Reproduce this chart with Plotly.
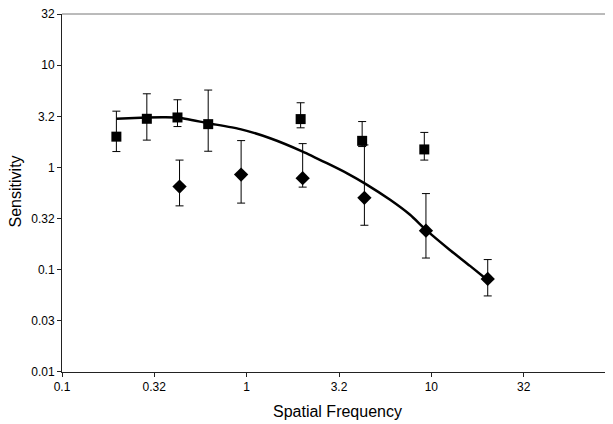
import numpy as np
import plotly.graph_objects as go

# Squares (series 1)
sq_x = [0.197, 0.288, 0.422, 0.619, 1.96, 4.22, 9.16]
sq_y = [2.0, 2.99, 3.08, 2.65, 2.97, 1.82, 1.50]
sq_top = [3.55, 5.25, 4.59, 5.71, 4.29, 2.81, 2.20]
sq_bot = [1.43, 1.85, 2.51, 1.44, 2.44, 1.60, 1.18]

# Diamonds (series 2)
di_x = [0.433, 0.933, 2.01, 4.34, 9.35, 20.2]
di_y = [0.650, 0.852, 0.786, 0.504, 0.241, 0.0813]
di_top = [1.18, 1.83, 1.71, 1.66, 0.555, 0.1256]
di_bot = [0.421, 0.448, 0.642, 0.272, 0.130, 0.0554]

# Fitted curve
fit_x = [0.197, 0.288, 0.35, 0.422, 0.617, 0.922, 1.34, 2.01, 2.72, 3.48, 4.40,
         5.98, 7.67, 9.36, 12.6, 16.2, 19.9]
fit_y = [2.99, 3.08, 3.10, 3.08, 2.71, 2.37, 1.93, 1.43, 1.10, 0.88, 0.691,
         0.482, 0.344, 0.245, 0.156, 0.109, 0.0807]

tick_vals = [0.1, 0.316, 1, 3.162, 10, 31.62]
x_tick_text = ["0.1", "0.32", "1", "3.2", "10", "32"]
y_tick_vals = [0.01, 0.0316, 0.1, 0.316, 1, 3.162, 10, 31.62]
y_tick_text = ["0.01", "0.03", "0.1", "0.32", "1", "3.2", "10", "32"]

x_title = "Spatial Frequency"
y_title = "Sensitivity"

fig = go.Figure()

fig.add_trace(go.Scatter(
    x=fit_x, y=fit_y, mode="lines",
    line=dict(color="black", width=2.5, shape="spline", smoothing=0.6),
    showlegend=False, hoverinfo="skip"))

fig.add_trace(go.Scatter(
    x=sq_x, y=sq_y, mode="markers",
    marker=dict(symbol="square", size=10, color="black"),
    error_y=dict(type="data", symmetric=False,
                 array=[t - v for t, v in zip(sq_top, sq_y)],
                 arrayminus=[v - b for v, b in zip(sq_y, sq_bot)],
                 color="black", thickness=1, width=4),
    showlegend=False))

fig.add_trace(go.Scatter(
    x=di_x, y=di_y, mode="markers",
    marker=dict(symbol="diamond", size=11, color="black"),
    error_y=dict(type="data", symmetric=False,
                 array=[t - v for t, v in zip(di_top, di_y)],
                 arrayminus=[v - b for v, b in zip(di_y, di_bot)],
                 color="black", thickness=1, width=4),
    showlegend=False))

family = "Liberation Sans, Arial, sans-serif"
font = dict(family=family, size=12, color="black")
title_font = dict(family=family, size=16, color="black")

fig.update_layout(
    width=613, height=424,
    margin=dict(l=54, r=0, t=6, b=60, autoexpand=False),
    paper_bgcolor="white", plot_bgcolor="white",
    font=font,
    xaxis=dict(type="log", range=[-1, 2.027], tickvals=tick_vals, ticktext=x_tick_text,
               automargin=False, ticklabeloverflow="allow",
               showgrid=False, zeroline=False, showline=True, linecolor="#222", linewidth=1,
               ticks="outside", ticklen=4, tickcolor="#222", tickfont=font),
    yaxis=dict(type="log", range=[-2.0004, 1.5004], tickvals=y_tick_vals, ticktext=y_tick_text,
               automargin=False, ticklabeloverflow="allow",
               showgrid=False, zeroline=False, showline=True, linecolor="#222", linewidth=1,
               ticks="outside", ticklen=4, tickcolor="#222", tickfont=font),
    shapes=[dict(type="line", xref="paper", yref="paper", x0=0, x1=1, y0=1, y1=1,
                 line=dict(color="#777", width=1))],
    annotations=[
        dict(text=x_title, xref="paper", yref="paper", x=0.4928, y=-0.1109,
             xanchor="center", yanchor="middle", showarrow=False, font=title_font),
        dict(text=y_title, xref="paper", yref="paper", x=-0.0825, y=0.504,
             xanchor="center", yanchor="middle", textangle=-90, showarrow=False, font=title_font),
    ],
)

fig.write_html("out.html")
